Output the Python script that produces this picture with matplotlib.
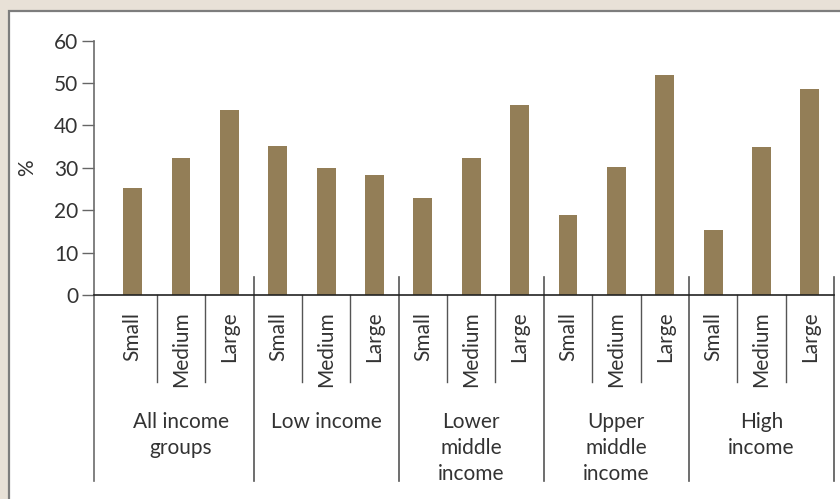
import matplotlib
matplotlib.use("Agg")
import matplotlib.pyplot as plt
from matplotlib.patches import Rectangle

plt.rcParams['font.family'] = ['Lato', 'DejaVu Sans']

# data
groups = ["All income\ngroups", "Low income", "Lower\nmiddle\nincome", "Upper\nmiddle\nincome", "High\nincome"]
sizes = ["Small", "Medium", "Large"]
all_income = [25.2, 32.3, 43.6]
low_income = [35.1, 30.0, 28.3]
lower_middle = [22.9, 32.3, 44.8]
upper_middle = [18.9, 30.2, 51.9]
high_income = [15.3, 34.9, 48.6]
yticks = [0, 10, 20, 30, 40, 50, 60]

series = [all_income, low_income, lower_middle, upper_middle, high_income]
values = [v for s in series for v in s]
xpos = list(range(len(values)))

bar_col = "#937e57"
txt_col = "#333333"
fs = 15

fig = plt.figure(figsize=(8.4, 4.99), dpi=100, facecolor="#e8e1d7")
# white panel with grey border
fig.patches.append(Rectangle((8.5 / 840, -0.05), 1.1, (499 - 10.5) / 499 + 0.05,
                             transform=fig.transFigure, facecolor="white",
                             edgecolor="#7d7d7d", lw=1.6, zorder=-1))

ax = fig.add_axes([94 / 840, (499 - 295) / 499, (834 - 94) / 840, (295 - 40.7) / 499])
ax.set_facecolor("none")
ax.bar(xpos, values, width=0.39, color=bar_col, zorder=2)

ax.set_xlim(-0.8, 14.5)
ax.set_ylim(0, 60)
ax.set_yticks(yticks)
ax.set_xticks([])
ax.tick_params(axis='y', length=8.5, width=1, color="#666666", labelsize=fs,
               labelcolor=txt_col, pad=3)
ax.set_ylabel("%", fontsize=fs, color=txt_col, labelpad=12)

for sp in ["top", "right"]:
    ax.spines[sp].set_visible(False)
ax.spines["left"].set_color("#6b6b6b")
ax.spines["left"].set_linewidth(1.2)
ax.spines["bottom"].set_color("#222222")
ax.spines["bottom"].set_linewidth(1.2)

# minor separators between sizes
for g in range(len(groups)):
    for k in (0.5, 1.5):
        x = g * 3 + k
        ax.plot([x, x], [0, -20.5], color="#555555", lw=1, clip_on=False)
# major separators between groups
for g in range(len(groups) + 1):
    x = g * 3 - 0.5 if g > 0 else -0.8
    top = 4.3 if g > 0 else 0
    ax.plot([x, x], [top, -43.8], color="#555555" if g > 0 else "#6b6b6b",
            lw=1.2, clip_on=False)

# size labels
for i, x in enumerate(xpos):
    ax.text(x, -3.9, sizes[i % 3], rotation=90, ha="center", va="top",
            fontsize=fs, color=txt_col)

# group labels
for g, name in enumerate(groups):
    ax.text(g * 3 + 1, -27.5, name, ha="center", va="top", fontsize=fs,
            color=txt_col, linespacing=1.4)

fig.savefig("out.png", dpi=100, facecolor=fig.get_facecolor())
